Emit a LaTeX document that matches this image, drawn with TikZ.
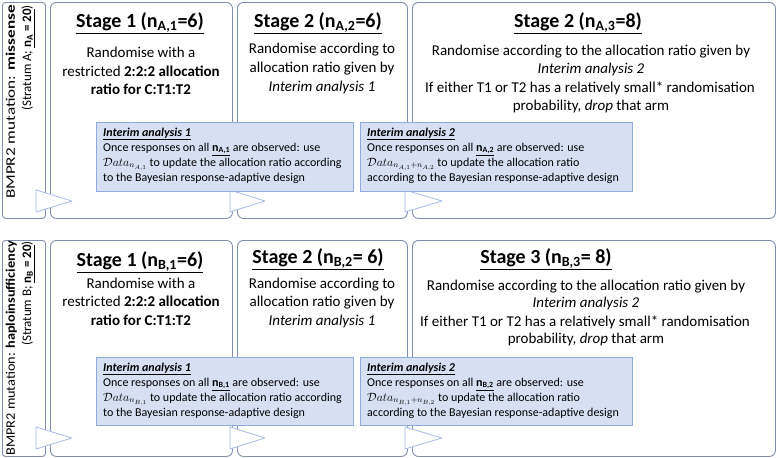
\documentclass[tikz,border=0pt]{standalone}
\usepackage{fontspec}
\setmainfont{Carlito}
\definecolor{boxc}{RGB}{128,144,170}
\definecolor{intf}{RGB}{214,224,242}
\definecolor{intd}{RGB}{143,170,220}
\definecolor{tric}{RGB}{165,188,228}
\tikzset{
 stagebox/.style={draw=boxc, line width=0.9pt, rounded corners=6pt, fill=white, anchor=north west, inner sep=0pt},
 labelbox/.style={draw=boxc, line width=0.9pt, rounded corners=3pt, fill=white, anchor=north west, inner sep=0pt},
 interimbox/.style={draw=intd, fill=intf, line width=0.9pt, anchor=north west, inner sep=0pt},
 tri/.style={draw=tric, fill=white, line width=0.8pt, line join=round},
 title/.style={anchor=base, inner sep=0pt, font=\fontsize{20}{24}\bfseries},
 body/.style={anchor=base, inner sep=0pt, font=\fontsize{15}{18}\selectfont},
 itext/.style={anchor=base west, inner sep=0pt, font=\fontsize{12}{15}\selectfont},
 slabel/.style={anchor=base east, inner sep=0pt, rotate=90, font=\fontsize{13}{15}\selectfont},
}
\begin{document}
\begin{tikzpicture}[x=1pt,y=-1pt]
\useasboundingbox (0,0) rectangle (777,458);
% ---------- Stratum A ----------
\node[labelbox, minimum width=43pt, minimum height=216pt] (la) at (2,2) {};
\node[stagebox, minimum width=182pt, minimum height=216pt] (sa1) at (50,2) {};
\node[stagebox, minimum width=170pt, minimum height=216pt] (sa2) at (237,2) {};
\node[stagebox, minimum width=363pt, minimum height=216pt] (sa3) at (412,2) {};
\draw[tri] (36,190) -- (72,201) -- (36,212) -- cycle;
\draw[tri] (230,190) -- (265,201) -- (230,212) -- cycle;
\draw[tri] (405,190) -- (442,201) -- (405,212) -- cycle;
\node[interimbox, minimum width=257pt, minimum height=69pt] (ia1) at (96,122) {};
\node[interimbox, minimum width=272pt, minimum height=69pt] (ia2) at (360,122) {};

\node[slabel, xscale=1.32] (laa) at (15,5) {BMPR2 mutation: \textbf{missense}};
\node[slabel] (lab) at (31,5) {(Stratum A; \textbf{\underline{n\textsubscript{A} = 20}})};

\node[title] (ta1) at (140,27) {\underline{Stage 1 (n\textsubscript{A,1}=6)}};
\node[body] (ba11) at (141,57) {Randomise with a};
\node[body] (ba12) at (141,76) {restricted \textbf{2:2:2 allocation}};
\node[body] (ba13) at (141,94) {\textbf{ratio for C:T1:T2}};

\node[title] (ta2) at (318,27) {\underline{Stage 2 (n\textsubscript{A,2}=6)}};
\node[body] (ba21) at (322,53) {Randomise according to};
\node[body] (ba22) at (322,72) {allocation ratio given by};
\node[body] (ba23) at (322,91) {\textit{Interim analysis 1}};

\node[title] (ta3) at (578,27) {\underline{Stage 2 (n\textsubscript{A,3}=8)}};
\node[body] (ba31) at (591,55) {Randomise according to the allocation ratio given by};
\node[body] (ba32) at (591,73) {\textit{Interim analysis 2}};
\node[body] (ba33) at (590,92) {If either T1 or T2 has a relatively small* randomisation};
\node[body] (ba34) at (591,110) {probability, \textit{drop} that arm};

\node[itext] (iat1) at (103,136) {\textbf{\textit{\underline{Interim analysis 1}}}};
\node[itext] (iat2) at (103,151) {Once responses on all \textbf{\underline{n\textsubscript{A,1}}} are observed: use};
\node[itext] (iat3) at (103,166) {$\mathcal{D}ata_{n_{A,1}}$ to update the allocation ratio according};
\node[itext] (iat4) at (103,181) {to the Bayesian response-adaptive design};

\node[itext] (ibt1) at (367,136) {\textbf{\textit{\underline{Interim analysis 2}}}};
\node[itext] (ibt2) at (367,151) {Once responses on all \textbf{\underline{n\textsubscript{A,2}}} are observed: use};
\node[itext] (ibt3) at (367,166) {$\mathcal{D}ata_{n_{A,1}+n_{A,2}}$ to update the allocation ratio};
\node[itext] (ibt4) at (367,181) {according to the Bayesian response-adaptive design};

% ---------- Stratum B ----------
\node[labelbox, minimum width=43pt, minimum height=216pt] (lb) at (2,240) {};
\node[stagebox, minimum width=182pt, minimum height=216pt] (sb1) at (50,240) {};
\node[stagebox, minimum width=170pt, minimum height=216pt] (sb2) at (237,240) {};
\node[stagebox, minimum width=363pt, minimum height=216pt] (sb3) at (412,240) {};
\draw[tri] (36,427) -- (72,438) -- (36,449) -- cycle;
\draw[tri] (230,427) -- (265,438) -- (230,449) -- cycle;
\draw[tri] (405,427) -- (442,438) -- (405,449) -- cycle;
\node[interimbox, minimum width=257pt, minimum height=68pt] (ib1) at (96,357) {};
\node[interimbox, minimum width=272pt, minimum height=68pt] (ib2) at (360,357) {};

\node[slabel, xscale=1.1] (lba) at (15,241) {BMPR2 mutation: \textbf{haploinsufficiency}};
\node[slabel] (lbb) at (31,241) {(Stratum B; \textbf{\underline{n\textsubscript{B} = 20}})};

\node[title] (tb1) at (140,266) {\underline{Stage 1 (n\textsubscript{B,1}=6)}};
\node[body] (bb11) at (141,288) {Randomise with a};
\node[body] (bb12) at (141,306) {restricted \textbf{2:2:2 allocation}};
\node[body] (bb13) at (141,325) {\textbf{ratio for C:T1:T2}};

\node[title] (tb2) at (318,263) {\underline{Stage 2 (n\textsubscript{B,2}= 6)}};
\node[body] (bb21) at (322,288) {Randomise according to};
\node[body] (bb22) at (322,306) {allocation ratio given by};
\node[body] (bb23) at (322,325) {\textit{Interim analysis 1}};

\node[title] (tb3) at (546,263) {\underline{Stage 3 (n\textsubscript{B,3}= 8)}};
\node[body] (bb31) at (586,290) {Randomise according to the allocation ratio given by};
\node[body] (bb32) at (586,307) {\textit{Interim analysis 2}};
\node[body] (bb33) at (585,326) {If either T1 or T2 has a relatively small* randomisation};
\node[body] (bb34) at (586,343) {probability, \textit{drop} that arm};

\node[itext] (ict1) at (103,371) {\textbf{\textit{\underline{Interim analysis 1}}}};
\node[itext] (ict2) at (103,386) {Once responses on all \textbf{\underline{n\textsubscript{B,1}}} are observed: use};
\node[itext] (ict3) at (103,401) {$\mathcal{D}ata_{n_{B,1}}$ to update the allocation ratio according};
\node[itext] (ict4) at (103,416) {to the Bayesian response-adaptive design};

\node[itext] (idt1) at (367,371) {\textbf{\textit{\underline{Interim analysis 2}}}};
\node[itext] (idt2) at (367,386) {Once responses on all \textbf{\underline{n\textsubscript{B,2}}} are observed: use};
\node[itext] (idt3) at (367,401) {$\mathcal{D}ata_{n_{B,1}+n_{B,2}}$ to update the allocation ratio};
\node[itext] (idt4) at (367,416) {according to the Bayesian response-adaptive design};
\end{tikzpicture}
\end{document}
